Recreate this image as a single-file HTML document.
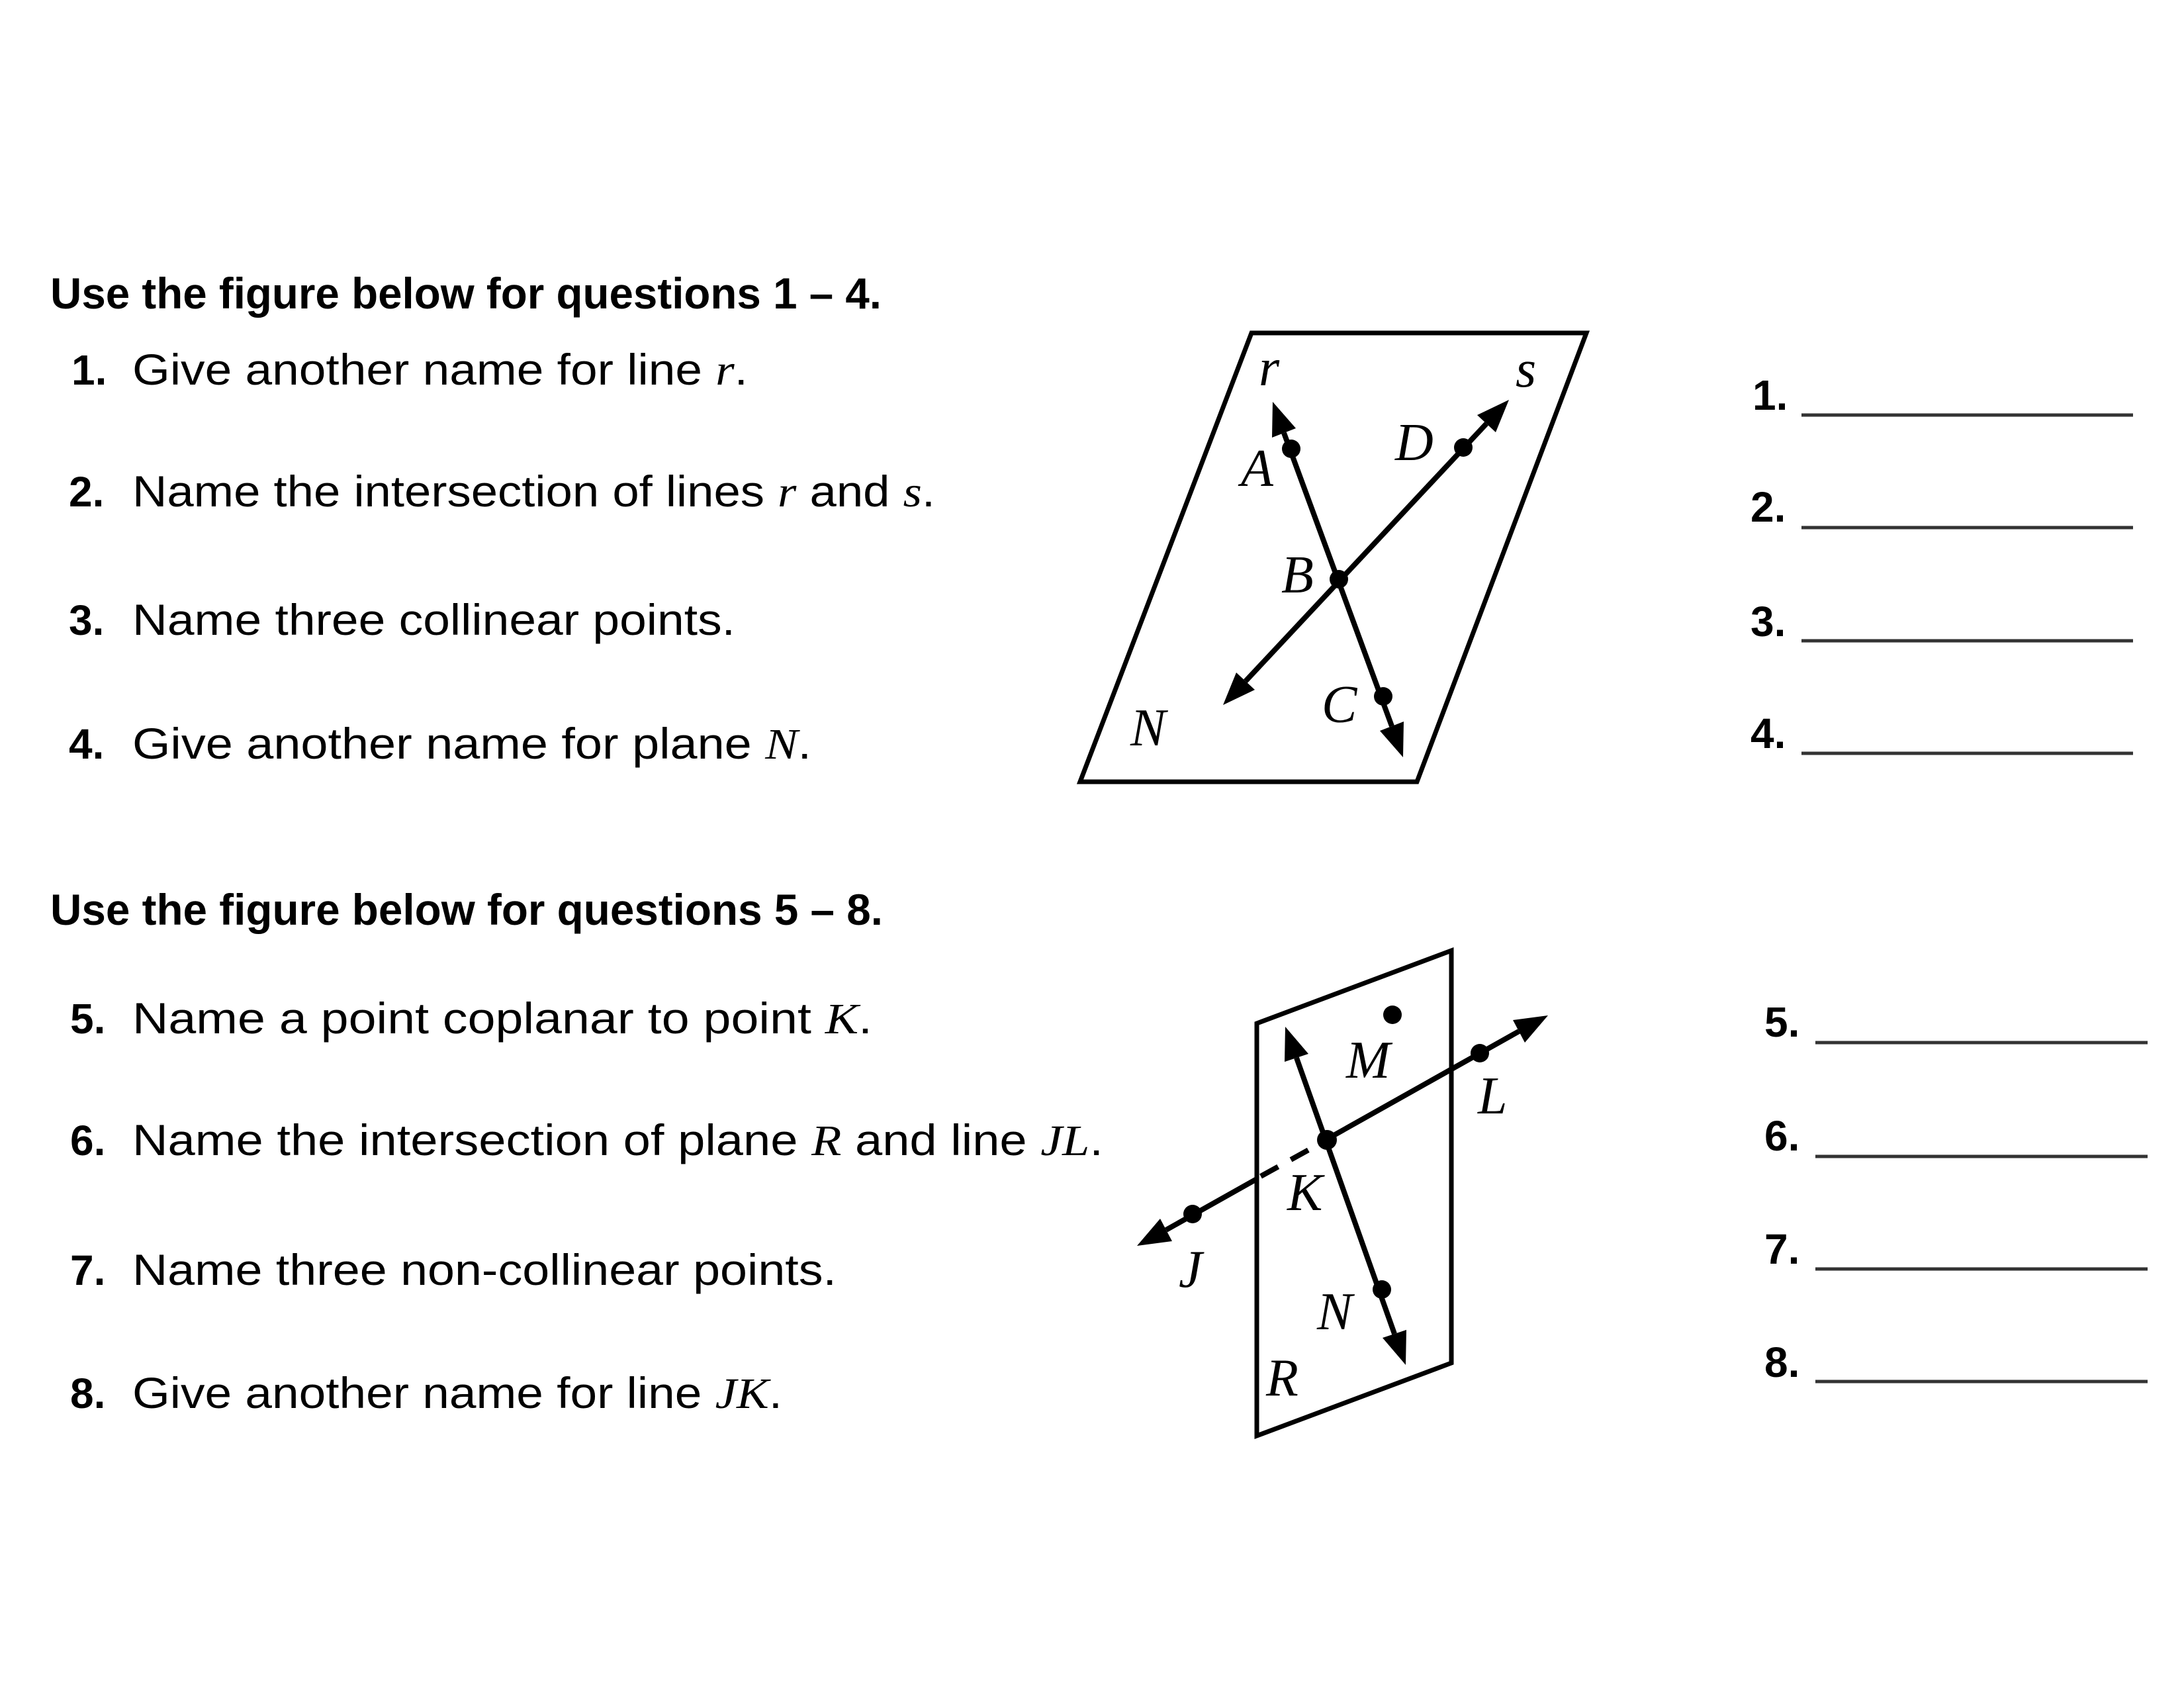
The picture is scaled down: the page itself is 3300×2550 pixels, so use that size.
<!DOCTYPE html>
<html><head><meta charset="utf-8"><style>
html,body{margin:0;padding:0;background:#fff;}
svg{display:block;}
.h{font-family:"Liberation Sans",sans-serif;font-weight:bold;font-size:66px;fill:#000;}
.q{font-family:"Liberation Sans",sans-serif;font-size:66px;fill:#000;}
.n{font-family:"Liberation Sans",sans-serif;font-weight:bold;font-size:64px;fill:#000;}
.i{font-family:"Liberation Serif",serif;font-style:italic;}
.lb{font-family:"Liberation Serif",serif;font-style:italic;font-size:80px;fill:#000;}
</style></head><body>
<svg width="3300" height="2550" viewBox="0 0 3300 2550" xmlns="http://www.w3.org/2000/svg">
<rect width="3300" height="2550" fill="#fff"/>
<!-- Section 1 text -->
<text class="h" x="76" y="466" textLength="1256" lengthAdjust="spacingAndGlyphs">Use the figure below for questions 1 – 4.</text>
<text class="n" x="108" y="581">1.</text>
<text class="q" x="200" y="581" textLength="930" lengthAdjust="spacingAndGlyphs">Give another name for line <tspan class="i">r</tspan>.</text>
<text class="n" x="104" y="765">2.</text>
<text class="q" x="200" y="765" textLength="1213" lengthAdjust="spacingAndGlyphs">Name the intersection of lines <tspan class="i">r</tspan> and <tspan class="i">s</tspan>.</text>
<text class="n" x="104" y="959">3.</text>
<text class="q" x="200" y="959" textLength="911" lengthAdjust="spacingAndGlyphs">Name three collinear points.</text>
<text class="n" x="104" y="1146">4.</text>
<text class="q" x="200" y="1146" textLength="1026" lengthAdjust="spacingAndGlyphs">Give another name for plane <tspan class="i">N</tspan>.</text>

<!-- Section 2 text -->
<text class="h" x="76" y="1397" textLength="1258" lengthAdjust="spacingAndGlyphs">Use the figure below for questions 5 – 8.</text>
<text class="n" x="106" y="1561">5.</text>
<text class="q" x="200" y="1561" textLength="1118" lengthAdjust="spacingAndGlyphs">Name a point coplanar to point <tspan class="i">K</tspan>.</text>
<text class="n" x="106" y="1745">6.</text>
<text class="q" x="200" y="1745" textLength="1467" lengthAdjust="spacingAndGlyphs">Name the intersection of plane <tspan class="i">R</tspan> and line <tspan class="i">JL</tspan>.</text>
<text class="n" x="106" y="1941">7.</text>
<text class="q" x="200" y="1941" textLength="1064" lengthAdjust="spacingAndGlyphs">Name three non-collinear points.</text>
<text class="n" x="106" y="2127">8.</text>
<text class="q" x="200" y="2127" textLength="982" lengthAdjust="spacingAndGlyphs">Give another name for line <tspan class="i">JK</tspan>.</text>

<!-- Answer blanks -->
<g stroke="#333" stroke-width="5">
<line x1="2722" y1="627" x2="3223" y2="627"/>
<line x1="2722" y1="797" x2="3223" y2="797"/>
<line x1="2722" y1="968" x2="3223" y2="968"/>
<line x1="2722" y1="1138" x2="3223" y2="1138"/>
<line x1="2743" y1="1575" x2="3245" y2="1575"/>
<line x1="2743" y1="1747" x2="3245" y2="1747"/>
<line x1="2743" y1="1917" x2="3245" y2="1917"/>
<line x1="2743" y1="2087" x2="3245" y2="2087"/>
</g>
<text class="n" x="2648" y="619">1.</text>
<text class="n" x="2645" y="788">2.</text>
<text class="n" x="2645" y="961">3.</text>
<text class="n" x="2645" y="1130">4.</text>
<text class="n" x="2666" y="1566">5.</text>
<text class="n" x="2666" y="1738">6.</text>
<text class="n" x="2666" y="1909">7.</text>
<text class="n" x="2666" y="2080">8.</text>

<!-- Figure 1 -->
<polygon points="1891,503 2397,503 2141,1181 1632,1181" fill="none" stroke="#000" stroke-width="7" stroke-linejoin="miter"/>
<g stroke="#000" stroke-width="8">
<line x1="1940" y1="654" x2="2103" y2="1097"/>
<line x1="2246" y1="640" x2="1882" y2="1029"/>
</g>
<g fill="#000">
<polygon points="1923,607 1958,647 1922,661"/>
<polygon points="2120,1144 2121,1090 2085,1104"/>
<polygon points="2280,604 2260,653 2232,627"/>
<polygon points="1848,1065 1896,1042 1868,1016"/>
<circle cx="1951" cy="678" r="14"/>
<circle cx="2211" cy="676" r="14"/>
<circle cx="2023" cy="875" r="14"/>
<circle cx="2090" cy="1052" r="14"/>
</g>
<text class="lb" x="1902" y="582">r</text>
<text class="lb" x="2290" y="584">s</text>
<text class="lb" x="1875" y="734">A</text>
<text class="lb" x="2108" y="695">D</text>
<text class="lb" x="1936" y="895">B</text>
<text class="lb" x="1997" y="1091">C</text>
<text class="lb" x="1708" y="1126">N</text>

<!-- Figure 2 -->
<polygon points="1899,1546 2193,1436 2193,2059 1899,2169" fill="none" stroke="#000" stroke-width="7"/>
<g stroke="#000" stroke-width="8">
<line x1="1959" y1="1598" x2="2107" y2="2015"/>
<line x1="1762" y1="1858" x2="1899" y2="1781"/>
<line x1="2003" y1="1722" x2="2295" y2="1558"/>
<line x1="1905" y1="1777" x2="1990" y2="1730" stroke-dasharray="30 22"/>
</g>
<g fill="#000">
<polygon points="1942,1551 1977,1592 1941,1604"/>
<polygon points="2124,2062 2125,2009 2089,2021"/>
<polygon points="2339,1534 2304,1575 2286,1541"/>
<polygon points="1718,1882 1771,1875 1753,1841"/>
<circle cx="2104" cy="1533" r="14"/>
<circle cx="2005" cy="1722" r="15"/>
<circle cx="2088" cy="1948" r="14"/>
<circle cx="2236" cy="1591" r="14"/>
<circle cx="1802" cy="1834" r="14"/>
</g>
<text class="lb" x="2034" y="1628">M</text>
<text class="lb" x="2233" y="1682">L</text>
<text class="lb" x="1945" y="1828">K</text>
<text class="lb" x="1781" y="1944">J</text>
<text class="lb" x="1990" y="2008">N</text>
<text class="lb" x="1913" y="2108">R</text>
</svg>
</body></html>
